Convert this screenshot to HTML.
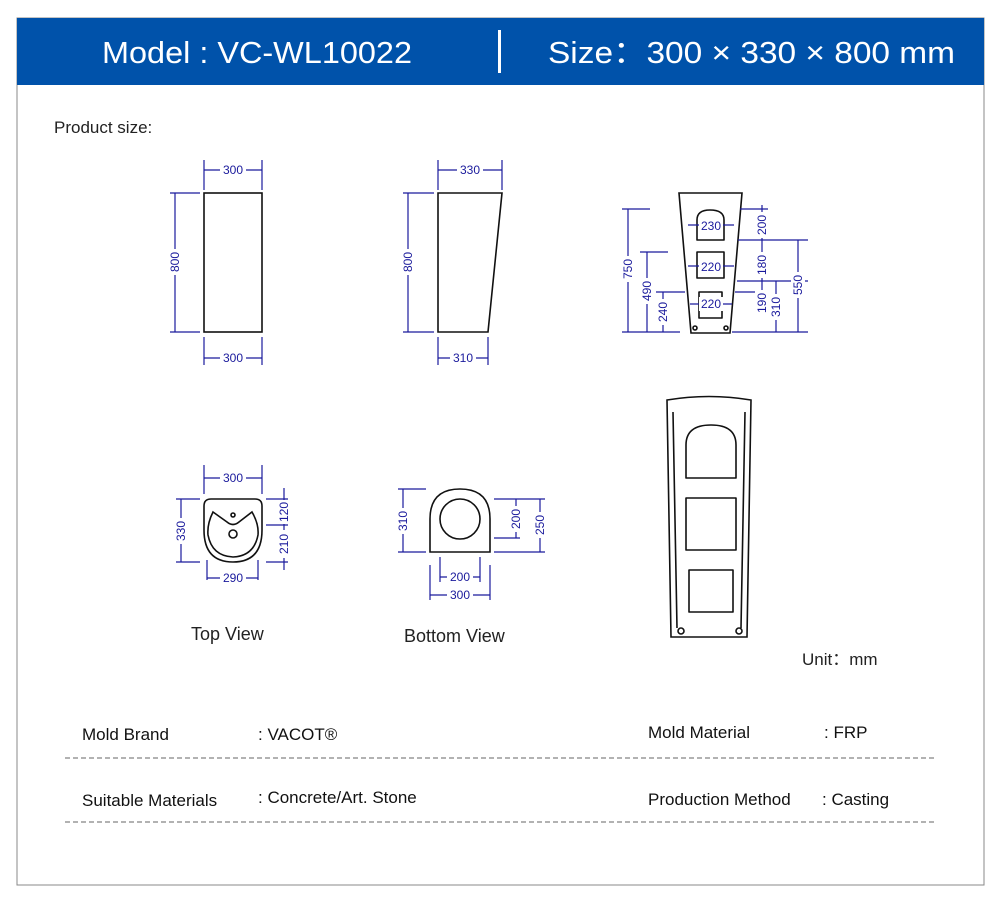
<!DOCTYPE html>
<html><head><meta charset="utf-8"><style>
html,body{margin:0;padding:0;background:#fff;}
svg{display:block;font-family:"Liberation Sans",sans-serif;}
.d{stroke:#1a1a9c;stroke-width:1.2;fill:none}
.dt{fill:#1a1a9c;font-size:12px}
.o{stroke:#111;stroke-width:1.6;fill:none}
</style></head><body>
<svg width="1000" height="903" viewBox="0 0 1000 903">
<rect x="17" y="18" width="967" height="867" fill="#fff" stroke="#888" stroke-width="1"/>
<rect x="17" y="18" width="967" height="67" fill="#0052aa"/>
<text x="102" y="63" fill="#fff" font-size="31" textLength="310" lengthAdjust="spacingAndGlyphs">Model : VC-WL10022</text>
<rect x="498" y="30" width="3" height="43" fill="#fff"/>
<text x="548" y="63" fill="#fff" font-size="31" textLength="407" lengthAdjust="spacingAndGlyphs">Size：300 × 330 × 800 mm</text>
<text x="54" y="133" font-size="17" fill="#222">Product size:</text>

<!-- Front view -->
<rect class="o" x="204" y="193" width="58" height="139"/>
<g class="d">
<path d="M204 160V190M262 160V190M204 170H262M170 193H200M170 332H200M175 193V332M204 337V365M262 337V365M204 358H262"/>
</g>
<rect x="220" y="163" width="26" height="14" fill="#fff"/><text class="dt" x="233" y="174" text-anchor="middle">300</text>
<rect x="220" y="351" width="26" height="14" fill="#fff"/><text class="dt" x="233" y="362" text-anchor="middle">300</text>
<rect x="168" y="249" width="14" height="26" fill="#fff"/><text class="dt" transform="translate(179,262) rotate(-90)" text-anchor="middle">800</text>

<!-- Side view -->
<polygon class="o" points="438,193 502,193 488,332 438,332"/>
<g class="d"><path d="M438 160V190M502 160V190M438 170H502M403 193H434M403 332H434M408 193V332M438 337V365M488 337V365M438 358H488"/></g>
<rect x="457" y="163" width="26" height="14" fill="#fff"/><text class="dt" x="470" y="174" text-anchor="middle">330</text>
<rect x="450" y="351" width="26" height="14" fill="#fff"/><text class="dt" x="463" y="362" text-anchor="middle">310</text>
<rect x="401" y="249" width="14" height="26" fill="#fff"/><text class="dt" transform="translate(412,262) rotate(-90)" text-anchor="middle">800</text>

<!-- Back view -->
<polygon class="o" points="679,193 742,193 730,333 691,333"/>
<path class="o" d="M697 240V220Q697 210 710 210Q724 210 724 220V240Z M697 252H724V278H697Z M699 292H722V318H699Z" stroke-linejoin="round"/>
<circle cx="695" cy="328" r="2" class="o" stroke-width="1"/><circle cx="726" cy="328" r="2" class="o" stroke-width="1"/>
<g class="d">
<path d="M622 209H650M622 332H680M640 252H668M656 292H685M628 209V332M647 252V332M663 292V332"/>
<path d="M740 209H768M738 240H768M737 281H808M735 292H768M732 332H808M762 205V296M776 281V332M798 240V332M758 240H808"/>
<path d="M688 225H734M688 266H734M690 304H732"/>
</g>
<rect x="699" y="219" width="24" height="14" fill="#fff"/><text class="dt" x="711" y="230" text-anchor="middle">230</text>
<rect x="699" y="260" width="24" height="14" fill="#fff"/><text class="dt" x="711" y="271" text-anchor="middle">220</text>
<rect x="699" y="297" width="24" height="14" fill="#fff"/><text class="dt" x="711" y="308" text-anchor="middle">220</text>
<rect x="621" y="256" width="14" height="26" fill="#fff"/><text class="dt" transform="translate(632,269) rotate(-90)" text-anchor="middle">750</text>
<rect x="640" y="278" width="14" height="26" fill="#fff"/><text class="dt" transform="translate(651,291) rotate(-90)" text-anchor="middle">490</text>
<rect x="656" y="299" width="14" height="26" fill="#fff"/><text class="dt" transform="translate(667,312) rotate(-90)" text-anchor="middle">240</text>
<rect x="755" y="212" width="14" height="26" fill="#fff"/><text class="dt" transform="translate(766,225) rotate(-90)" text-anchor="middle">200</text>
<rect x="755" y="252" width="14" height="26" fill="#fff"/><text class="dt" transform="translate(766,265) rotate(-90)" text-anchor="middle">180</text>
<rect x="755" y="290" width="14" height="26" fill="#fff"/><text class="dt" transform="translate(766,303) rotate(-90)" text-anchor="middle">190</text>
<rect x="769" y="294" width="14" height="26" fill="#fff"/><text class="dt" transform="translate(780,307) rotate(-90)" text-anchor="middle">310</text>
<rect x="791" y="272" width="14" height="26" fill="#fff"/><text class="dt" transform="translate(802,285) rotate(-90)" text-anchor="middle">550</text>

<!-- Perspective -->
<path class="o" d="M667 400Q709 393 751 400L747 637H671Z"/>
<path class="o" stroke-width="1.2" d="M673 412L677 628M745 412L741 628"/>
<path class="o" d="M686 478V445Q686 425 711 425Q736 425 736 445V478Z M686 498H736V550H686Z M689 570H733V612H689Z" stroke-linejoin="round"/>
<circle class="o" stroke-width="1.2" cx="681" cy="631" r="3"/><circle class="o" stroke-width="1.2" cx="739" cy="631" r="3"/>

<!-- Top view -->
<path class="o" d="M204 506Q204 499 211 499H255Q262 499 262 506V530Q262 562 233 562Q204 562 204 530Z"/>
<path class="o" stroke-width="1.2" d="M213 512L227 522Q233 527 239 522L252 512Q259 524 258 535Q254 556 233 557Q212 556 208 535Q207 524 213 512Z"/>
<circle class="o" stroke-width="1.2" cx="233" cy="515" r="2"/>
<circle class="o" stroke-width="1.5" cx="233" cy="534" r="4"/>
<g class="d"><path d="M204 465V494M262 465V494M204 478H262M176 499H200M176 562H200M181 499V562M207 560V580M258 560V580M207 578H258M266 499H288M266 525H288M266 562H288M284 488V570"/></g>
<rect x="220" y="471" width="26" height="14" fill="#fff"/><text class="dt" x="233" y="482" text-anchor="middle">300</text>
<rect x="220" y="571" width="26" height="14" fill="#fff"/><text class="dt" x="233" y="582" text-anchor="middle">290</text>
<rect x="174" y="518" width="14" height="26" fill="#fff"/><text class="dt" transform="translate(185,531) rotate(-90)" text-anchor="middle">330</text>
<rect x="277" y="500" width="14" height="24" fill="#fff"/><text class="dt" transform="translate(288,512) rotate(-90)" text-anchor="middle">120</text>
<rect x="277" y="530" width="14" height="28" fill="#fff"/><text class="dt" transform="translate(288,544) rotate(-90)" text-anchor="middle">210</text>
<text x="191" y="640" font-size="18" fill="#222">Top View</text>

<!-- Bottom view -->
<path class="o" d="M430 552V519Q430 489 460 489Q490 489 490 519V552Z"/>
<circle class="o" cx="460" cy="519" r="20"/>
<g class="d"><path d="M398 489H426M398 552H426M403 489V552M494 499H520M494 538H520M494 552H545M498 499H545M516 499V538M540 499V552M440 557V582M480 557V582M440 577H480M430 565V600M490 565V600M430 595H490"/></g>
<rect x="396" y="508" width="14" height="26" fill="#fff"/><text class="dt" transform="translate(407,521) rotate(-90)" text-anchor="middle">310</text>
<rect x="509" y="506" width="14" height="26" fill="#fff"/><text class="dt" transform="translate(520,519) rotate(-90)" text-anchor="middle">200</text>
<rect x="533" y="512" width="14" height="26" fill="#fff"/><text class="dt" transform="translate(544,525) rotate(-90)" text-anchor="middle">250</text>
<rect x="447" y="570" width="26" height="14" fill="#fff"/><text class="dt" x="460" y="581" text-anchor="middle">200</text>
<rect x="447" y="588" width="26" height="14" fill="#fff"/><text class="dt" x="460" y="599" text-anchor="middle">300</text>
<text x="404" y="642" font-size="18" fill="#222">Bottom View</text>

<text x="802" y="665" font-size="17" fill="#222">Unit：mm</text>

<!-- Spec table -->
<g font-size="17" fill="#111">
<text x="82" y="740">Mold Brand</text><text x="258" y="740">:  VACOT®</text>
<text x="648" y="738">Mold Material</text><text x="824" y="738">:   FRP</text>
<text x="82" y="806">Suitable Materials</text><text x="258" y="803">:  Concrete/Art. Stone</text>
<text x="648" y="805">Production Method</text><text x="822" y="805">:   Casting</text>
</g>
<path d="M65 758H934M65 822H934" stroke="#666" stroke-width="1" stroke-dasharray="5,3"/>
</svg>
</body></html>
